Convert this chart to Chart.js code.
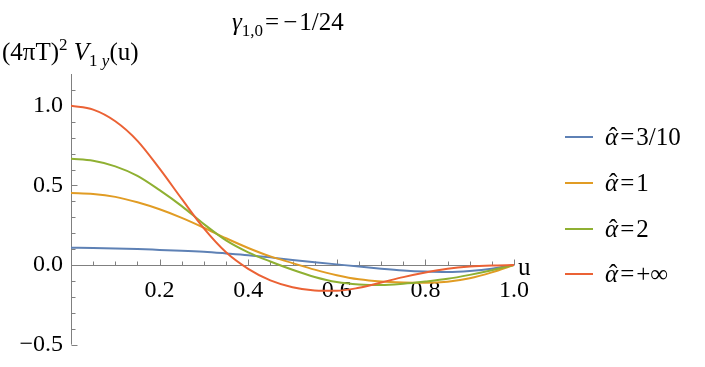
<!DOCTYPE html>
<html>
<head>
<meta charset="utf-8">
<script src="https://cdn.jsdelivr.net/npm/chart.js@4"></script>
<style>
  body { margin: 0; background: #fff; }
  #caja { position: relative; width: 705px; height: 367px; font-family: "Liberation Serif", "DejaVu Serif", serif; color: #000; }
  #grafico { position: absolute; left: 0; top: 0; }
  .texto { position: absolute; white-space: nowrap; font-size: 25px; line-height: 1; }
  .sub { font-size: 17px; position: relative; top: 6px; }
  .sup { font-size: 17px; position: relative; top: -10px; }
  .op { margin: 0 2px; }
  .hat { position: relative; display: inline-block; }
  .hat::after { content: "ˆ"; position: absolute; left: 4px; top: 0; font-style: normal; }
  .leyenda { position: absolute; left: 565px; white-space: nowrap; font-size: 25px; line-height: 1; }
  .leyenda span.linea { position: absolute; left: 0; top: 0; width: 28px; height: 2px; }
  .leyenda span.etiqueta { position: absolute; left: 40px; top: -12px; }
</style>
</head>
<body>
<div id="caja">
  <canvas id="grafico" width="705" height="367"></canvas>
  <div class="texto" style="left:232px; top:9px;"><i>γ</i><span class="sub">1,0</span><span class="op">=</span><span class="op">−</span>1/24</div>
  <div class="texto" style="left:2px; top:39px;">(4πT)<span class="sup">2</span> <i>V</i><span class="sub">1 <i>y</i></span>(u)</div>
  <div class="texto" style="left:518px; top:254px;">u</div>
  <div id="leyenda"></div>
</div>
<script>
// Datos
const valoresU = [0, 0.05, 0.1, 0.15, 0.2, 0.25, 0.3, 0.35, 0.4, 0.45, 0.5,
                  0.55, 0.6, 0.65, 0.7, 0.75, 0.8, 0.85, 0.9, 0.95, 1.0];
const etiquetas = ["α̂=3/10", "α̂=1", "α̂=2", "α̂=+∞"];
const serieAlfa03 = [0.108, 0.107, 0.104, 0.100, 0.095, 0.090, 0.083, 0.073, 0.062, 0.048, 0.032,
                     0.018, 0.004, -0.010, -0.023, -0.034, -0.041, -0.044, -0.038, -0.024, 0];
const serieAlfa1 = [0.452, 0.446, 0.428, 0.394, 0.350, 0.296, 0.234, 0.168, 0.107, 0.054, 0.012,
                    -0.029, -0.064, -0.090, -0.104, -0.110, -0.112, -0.105, -0.083, -0.046, 0];
const serieAlfa2 = [0.667, 0.655, 0.620, 0.560, 0.470, 0.370, 0.257, 0.155, 0.080, 0.022, -0.030,
                    -0.075, -0.107, -0.122, -0.126, -0.118, -0.104, -0.087, -0.062, -0.033, 0];
const serieAlfaInf = [1.0, 0.976, 0.903, 0.780, 0.605, 0.415, 0.230, 0.080, -0.024, -0.097, -0.140,
                      -0.160, -0.162, -0.143, -0.110, -0.076, -0.047, -0.024, -0.010, -0.003, 0];
const ticksY = [-0.5, 0.0, 0.5, 1.0];
const ticksX = [0.2, 0.4, 0.6, 0.8, 1.0];

const colores = ["#5E81B5", "#E19C24", "#8FB032", "#EB6235"];
const series = [serieAlfa03, serieAlfa1, serieAlfa2, serieAlfaInf];
const fuente = { family: "'Liberation Serif', 'DejaVu Serif', serif", size: 24 };

function aPuntos(valores) {
    return valores.map((v, i) => ({ x: valoresU[i], y: v }));
}

function esMarca(lista, v) {
    return lista.some(t => Math.abs(t - v) < 1e-6);
}

function formato(v) {
    const texto = Math.abs(v).toFixed(1);
    return v < -1e-6 ? "−" + texto : texto;
}

// Ejes al estilo Mathematica: lineas grises con marcas hacia dentro
const ejes = {
    id: "ejes",
    beforeDatasetsDraw(chart) {
        const ctx = chart.ctx;
        const x = chart.scales.x;
        const y = chart.scales.y;
        const x0 = Math.round(x.getPixelForValue(0)) + 0.5;
        const y0 = Math.round(y.getPixelForValue(0)) + 0.5;
        ctx.save();
        ctx.strokeStyle = "#808080";
        ctx.lineWidth = 1;
        ctx.beginPath();
        ctx.moveTo(x0, y.getPixelForValue(-0.5));
        ctx.lineTo(x0, chart.chartArea.top);
        ctx.moveTo(x0, y0);
        ctx.lineTo(x.getPixelForValue(1), y0);
        for (let k = -5; k <= 11; k++) {
            const py = Math.round(y.getPixelForValue(k / 10)) + 0.5;
            const largo = k % 5 === 0 ? 6 : 4;
            ctx.moveTo(x0, py);
            ctx.lineTo(x0 + largo, py);
        }
        for (let k = 1; k <= 20; k++) {
            const px = Math.round(x.getPixelForValue(k / 20)) + 0.5;
            const largo = k % 4 === 0 ? 6 : 4;
            ctx.moveTo(px, y0);
            ctx.lineTo(px, y0 - largo);
        }
        ctx.stroke();
        ctx.restore();
    }
};

const ctx = document.getElementById("grafico").getContext("2d");

const grafico = new Chart(ctx, {
    type: "line",
    data: {
        datasets: series.map((s, i) => ({
            label: etiquetas[i],
            data: aPuntos(s),
            borderColor: colores[i],
            backgroundColor: colores[i],
            borderWidth: 2,
            pointRadius: 0,
            cubicInterpolationMode: "monotone",
            order: series.length - i
        }))
    },
    options: {
        responsive: false,
        animation: false,
        layout: { padding: { top: 74, right: 191, bottom: 18, left: 0 } },
        plugins: {
            legend: { display: false },
            tooltip: { enabled: false }
        },
        scales: {
            x: {
                type: "linear",
                min: 0,
                max: 1,
                position: { y: 0 },
                grid: { display: false, drawTicks: false },
                border: { display: false },
                ticks: {
                    stepSize: 0.05,
                    autoSkip: false,
                    maxRotation: 0,
                    padding: 11,
                    color: "#000",
                    font: fuente,
                    callback: v => esMarca(ticksX, v) ? v.toFixed(1) : ""
                }
            },
            y: {
                min: -0.5,
                max: 1.2,
                grid: { display: false, drawTicks: false },
                border: { display: false },
                afterFit: escala => { escala.width = 71; },
                ticks: {
                    stepSize: 0.1,
                    autoSkip: false,
                    padding: 8,
                    color: "#000",
                    font: fuente,
                    callback: v => esMarca(ticksY, v) ? formato(v) : ""
                }
            }
        }
    },
    plugins: [ejes]
});

// Leyenda en HTML a partir de los datasets
const leyenda = document.getElementById("leyenda");
const posiciones = [136, 182, 228, 273];
grafico.data.datasets.forEach((ds, i) => {
    const resto = ds.label.replace("α̂", "").replace("=", "");
    const item = document.createElement("div");
    item.className = "leyenda";
    item.style.top = posiciones[i] + "px";
    item.innerHTML = `<span class="linea" style="background:${ds.borderColor}"></span>` +
        `<span class="etiqueta"><span class="hat"><i>α</i></span><span class="op">=</span>${resto}</span>`;
    leyenda.appendChild(item);
});
</script>
</body>
</html>
